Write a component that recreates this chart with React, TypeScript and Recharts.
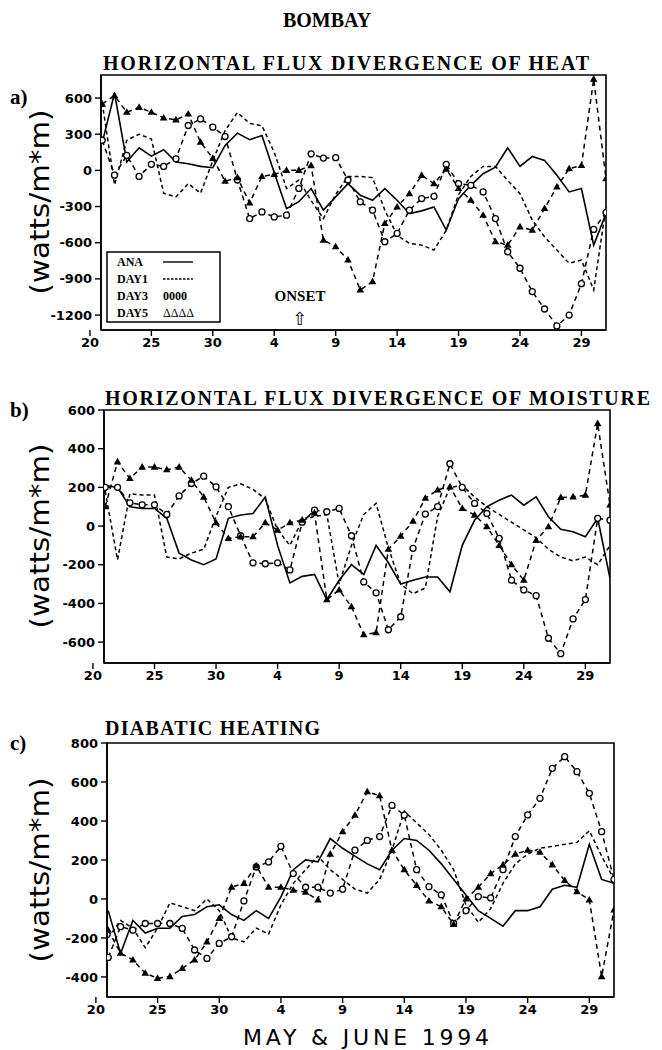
import React from 'react'
import { LineChart, Line, XAxis, YAxis, ReferenceArea } from 'recharts'

// one value per day, May 21 .. July 1 1994
const dates = [21, 22, 23, 24, 25, 26, 27, 28, 29, 30, 31, 1, 2, 3, 4, 5, 6, 7, 8, 9, 10, 11, 12, 13, 14, 15, 16, 17, 18, 19, 20, 21, 22, 23, 24, 25, 26, 27, 28, 29, 30, 1]

// x ticks: day offsets from May 20
const xTicks = [0, 5, 10, 15, 20, 25, 30, 35, 40]
const xTickLabels = ['20', '25', '30', '4', '9', '14', '19', '24', '29']

// a) horizontal flux divergence of heat
const anaHeat = [230, 640, 70, 187, 118, 171, 69, 55, 33, 22, 207, 309, 254, 289, -20, -317, -260, -151, -330, -220, -110, -206, -248, -151, -248, -358, -336, -303, -496, -234, -124, -28, 27, 187, 33, 115, 83, -41, -179, -151, -620, -358]
const day1Heat = [560, -120, 250, 300, 260, -190, -220, -110, -190, 80, 330, 480, 390, 370, 150, -150, -80, -250, -400, -200, -50, -50, -60, -330, -537, -606, -620, -661, -496, -200, -50, 33, 33, -83, -193, -413, -551, -661, -771, -744, -992, -303]
const day3Heat = [250, -40, 124, -50, 50, 33, 96, 372, 427, 358, 281, -80, -400, -345, -386, -372, -150, 137, 102, 105, -80, -261, -330, -592, -523, -330, -234, -215, 50, -110, -124, -179, -400, -675, -812, -1005, -1150, -1290, -1200, -940, -490, -350]
const day5Heat = [550, 620, 482, 523, 482, 435, 419, 468, 234, 100, -90, -60, -270, -50, -33, 0, 0, 40, -578, -633, -743, -991, -922, -440, -303, -193, -41, -110, 10, -150, -248, -372, -592, -620, -468, -496, -316, -138, 14, 41, 757, -69]
const heatTicks = [600, 300, 0, -300, -600, -900, -1200]

// b) horizontal flux divergence of moisture
const anaMoist = [210, 200, 100, 91, 91, 40, -140, -175, -200, -170, 40, 57, 65, 150, -100, -294, -260, -250, -381, -280, -200, -250, -100, -190, -300, -280, -263, -263, -340, -100, 30, 100, 134, 160, 108, 151, 48, -17, -29, -55, 40, -270]
const day1Moist = [180, -175, 168, 160, 160, -160, -170, -140, -120, 50, 200, 218, 190, 140, -20, -100, 30, 50, 60, -300, -100, 60, 117, -113, -300, -350, -320, 50, 200, 210, 150, 100, 60, 20, -20, -60, -120, -160, -180, -160, -200, -100]
const day3Moist = [200, 200, 120, 110, 110, 60, 156, 220, 258, 203, 100, -50, -190, -195, -190, -227, 20, 82, 74, 91, -50, -289, -345, -536, -469, -115, 62, 100, 322, 200, 117, 65, -64, -280, -330, -360, -580, -660, -480, -380, 40, 30]
const day5Moist = [100, 332, 246, 305, 305, 291, 305, 237, 150, 17, -64, -55, -55, 17, -21, 17, 31, 67, -381, -330, -417, -562, -551, -120, -52, 25, 144, 187, 203, 91, 57, -3, -100, -200, -280, -74, -3, 148, 151, 160, 530, 110]
const moistTicks = [600, 400, 200, 0, -200, -400, -600]

// c) diabatic heating
const anaDiab = [-60, -280, -110, -175, -150, -150, -90, -80, -40, -30, -80, -110, -60, -100, 10, 150, 200, 190, 310, 260, 220, 180, 150, 250, 310, 300, 250, 180, 100, 20, -60, -100, -140, -60, -60, -40, 50, 70, 60, 280, 100, 80]
const day1Diab = [-200, -110, -150, -250, -150, -20, -40, -60, 0, -60, -200, -220, -150, -180, -30, 80, 150, 220, 150, 100, 50, 30, 100, 250, 450, 390, 330, 250, 150, -30, -120, -50, 80, 180, 230, 260, 270, 280, 290, 350, 220, 100]
const day3Diab = [-300, -142, -160, -126, -126, -126, -151, -262, -305, -228, -194, -10, 164, 190, 270, 130, 60, 60, 30, 50, 250, 300, 320, 480, 430, 150, 63, 21, -125, -60, 12, 5, 150, 320, 431, 516, 670, 730, 653, 542, 345, 100]
const day5Diab = [-160, -278, -313, -381, -407, -398, -356, -313, -220, -100, 60, 80, 170, 60, 60, 45, 35, -5, 230, 345, 430, 550, 530, 250, 150, 70, -10, -40, -130, 0, 60, 130, 175, 230, 250, 240, 175, 95, 38, -5, -398, -56]
const diabTicks = [800, 600, 400, 200, 0, -200, -400]

const X_DOMAIN: [number, number] = [0.9, 42]

function buildRows(ana: number[], day1: number[], day3: number[], day5: number[]) {
  return dates.map((_, i) => ({ x: i + 1, ana: ana[i], day1: day1[i], day3: day3[i], day5: day5[i] }))
}

const tickFont = { fill: '#000', fontSize: 13, fontFamily: 'DejaVu Sans', fontWeight: 'bold' }

const CircleDot = (p: any) => {
  if (p.cx == null || p.cy == null) return <g key={p.index} />
  return <circle key={p.index} cx={p.cx} cy={p.cy} r={3} fill="#fff" stroke="#000" strokeWidth={1.3} />
}

const TriangleDot = (p: any) => {
  if (p.cx == null || p.cy == null) return <g key={p.index} />
  const { cx, cy } = p
  return <path key={p.index} d={`M${cx},${cy - 4}L${cx + 3.8},${cy + 2.6}L${cx - 3.8},${cy + 2.6}Z`} fill="#000" />
}

interface PanelProps {
  rows: ReturnType<typeof buildRows>
  yDomain: [number, number]
  yTicks: number[]
  top: number
  height: number
  plotLeft: number
  right: number
}

function Panel({ rows, yDomain, yTicks, top, height, plotLeft, right }: PanelProps) {
  return (
    <div style={{ position: 'absolute', left: 0, top }}>
      <LineChart width={662} height={height} data={rows} margin={{ top: 10, right, bottom: 0, left: plotLeft - 60 }}>
        <XAxis
          type="number"
          dataKey="x"
          domain={X_DOMAIN}
          ticks={xTicks}
          interval={0}
          allowDataOverflow
          height={30}
          tickSize={6}
          tickMargin={2}
          tick={tickFont}
          tickFormatter={(v: number) => xTickLabels[xTicks.indexOf(v)] ?? ''}
          axisLine={{ stroke: '#000', strokeWidth: 1.6 }}
          tickLine={{ stroke: '#000', strokeWidth: 1.4 }}
        />
        <YAxis
          type="number"
          domain={yDomain}
          ticks={yTicks}
          interval={0}
          allowDataOverflow
          width={60}
          tickSize={6}
          tickMargin={3}
          tick={tickFont}
          axisLine={{ stroke: '#000', strokeWidth: 1.6 }}
          tickLine={{ stroke: '#000', strokeWidth: 1.4 }}
        />
        <ReferenceArea x1={X_DOMAIN[0]} x2={X_DOMAIN[1]} y1={yDomain[0]} y2={yDomain[1]} fill="none" stroke="#000" strokeWidth={1.6} ifOverflow="visible" />
        <Line type="linear" dataKey="ana" stroke="#000" strokeWidth={1.6} dot={false} activeDot={false} isAnimationActive={false} />
        <Line type="linear" dataKey="day1" stroke="#000" strokeWidth={1.5} strokeDasharray="4 3" dot={false} activeDot={false} isAnimationActive={false} />
        <Line type="linear" dataKey="day3" stroke="#000" strokeWidth={1.5} strokeDasharray="5 4" dot={CircleDot} activeDot={false} isAnimationActive={false} />
        <Line type="linear" dataKey="day5" stroke="#000" strokeWidth={1.5} strokeDasharray="5 4" dot={TriangleDot} activeDot={false} isAnimationActive={false} />
      </LineChart>
    </div>
  )
}

const serifBold = { fontFamily: 'Liberation Serif', fontWeight: 'bold' as const, fill: '#000' }

export default function App() {
  return (
    <div style={{ position: 'absolute', left: 0, top: 0, width: 662, height: 1050, background: '#fff' }}>
      <Panel rows={buildRows(anaHeat, day1Heat, day3Heat, day5Heat)} yDomain={[-1324, 791]} yTicks={heatTicks} top={65} height={295} plotLeft={101} right={56} />
      <Panel rows={buildRows(anaMoist, day1Moist, day3Moist, day5Moist)} yDomain={[-708, 600]} yTicks={moistTicks} top={400} height={293} plotLeft={104} right={52} />
      <Panel rows={buildRows(anaDiab, day1Diab, day3Diab, day5Diab)} yDomain={[-503, 800]} yTicks={diabTicks} top={733} height={294} plotLeft={107} right={48} />

      <svg width={662} height={1050} style={{ position: 'absolute', left: 0, top: 0, pointerEvents: 'none' }}>
        <text x={327} y={27} textAnchor="middle" fontSize={20} {...serifBold}>BOMBAY</text>

        <text x={103} y={70} fontSize={20} textLength={486} lengthAdjust="spacing" {...serifBold}>HORIZONTAL FLUX DIVERGENCE OF HEAT</text>
        <text x={105} y={405} fontSize={20} textLength={545} lengthAdjust="spacing" {...serifBold}>HORIZONTAL FLUX DIVERGENCE OF MOISTURE</text>
        <text x={105} y={735} fontSize={20} textLength={215} lengthAdjust="spacing" {...serifBold}>DIABATIC HEATING</text>

        <text x={10} y={104} fontSize={21} {...serifBold}>a)</text>
        <text x={10} y={417} fontSize={21} {...serifBold}>b)</text>
        <text x={10} y={750} fontSize={21} {...serifBold}>c)</text>

        {[202, 536, 870].map((cy) => (
          <text key={cy} x={40} y={cy} transform={`rotate(-90 40 ${cy})`} textAnchor="middle" dominantBaseline="central"
            fontFamily="DejaVu Sans" fontSize={26} textLength={185} lengthAdjust="spacingAndGlyphs" fill="#000">(watts/m*m)</text>
        ))}

        <text x={366} y={1045} textAnchor="middle" fontFamily="DejaVu Sans" fontSize={22} textLength={246} lengthAdjust="spacing" fill="#000">MAY &amp; JUNE 1994</text>

        <text x={300} y={301} textAnchor="middle" fontSize={15} {...serifBold}>ONSET</text>
        <text x={300} y={325} textAnchor="middle" fontFamily="DejaVu Sans" fontSize={18} fill="#000">⇧</text>

        <g>
          <rect x={107} y={252} width={113} height={70} fill="#fff" stroke="#000" strokeWidth={1.5} />
          <text x={117} y={266} fontSize={12} {...serifBold}>ANA</text>
          <line x1={163} x2={193} y1={262} y2={262} stroke="#000" strokeWidth={1.4} />
          <text x={117} y={283} fontSize={12} {...serifBold}>DAY1</text>
          <line x1={163} x2={193} y1={279} y2={279} stroke="#000" strokeWidth={1.4} strokeDasharray="2.5 1.5" />
          <text x={117} y={300} fontSize={12} {...serifBold}>DAY3</text>
          <text x={163} y={300} fontSize={12} {...serifBold}>0000</text>
          <text x={117} y={317} fontSize={12} {...serifBold}>DAY5</text>
          <text x={163} y={317} fontSize={12} fontFamily="Liberation Serif" fill="#000">ΔΔΔΔ</text>
        </g>
      </svg>
    </div>
  )
}
